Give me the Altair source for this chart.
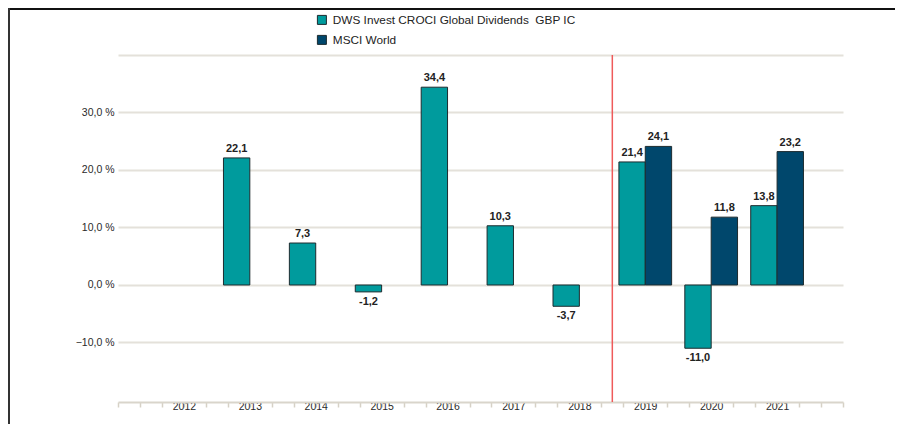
import altair as alt
import pandas as pd

years = [2012, 2013, 2014, 2015, 2016, 2017, 2018, 2019, 2020, 2021]
dws = [None, 22.1, 7.3, -1.2, 34.4, 10.3, -3.7, 21.4, -11.0, 13.8]
msci = [None, None, None, None, None, None, None, 24.1, 11.8, 23.2]
series_names = ["DWS Invest CROCI Global Dividends\u00a0 GBP IC", "MSCI World"]
series_colors = ["#009b9d", "#00476c"]
divider_year = 2018.5

rows = []
for y, a, b in zip(years, dws, msci):
    if a is not None:
        rows.append({"year": y, "series": series_names[0], "value": a,
                     "x0": y - 0.4, "x1": y, "xc": y - 0.2})
    if b is not None:
        rows.append({"year": y, "series": series_names[1], "value": b,
                     "x0": y, "x1": y + 0.4, "xc": y + 0.2})
df = pd.DataFrame(rows)
df["label"] = df["value"].map(lambda v: f"{v:.1f}".replace(".", ","))

W, H = 725, 347
PAD = {"left": 110, "top": 47, "right": 52, "bottom": 22}

xscale = alt.Scale(domain=[2011, 2022], nice=False, zero=False)
yscale = alt.Scale(domain=[-20.35, 40], nice=False, zero=False)

tick_vals = [round(2011 + i / 3, 4) for i in range(0, 34)]

x_axis = alt.Axis(
    values=tick_vals, title=None, grid=False,
    labelExpr="(abs(datum.value - round(datum.value)) < 0.01 && datum.value >= 2012 && datum.value <= 2021) ? format(round(datum.value), 'd') : ''",
    tickColor="#d6d1c6", tickSize=5, tickWidth=1.5,
    domainColor="#d9d5cb", domainWidth=2,
    labelFont="Liberation Sans", labelFontSize=10.5, labelColor="#2a2a2a",
    labelPadding=-6, labelFlush=False, labelOverlap=False,
)
y_axis = alt.Axis(
    values=[-10, 0, 10, 20, 30, 40], title=None,
    labelExpr="datum.value >= 40 ? '' : replace(format(datum.value, '.1f'), '.', ',') + ' %'",
    grid=True, gridColor="#e4e1da", gridWidth=2,
    ticks=False, domain=False,
    labelFont="Liberation Sans", labelFontSize=10.5, labelColor="#2a2a2a",
    labelPadding=4, labelOverlap=False,
)

bars = alt.Chart(df).mark_rect(stroke="#1d2b2f", strokeWidth=1).encode(
    x=alt.X("x0:Q", scale=xscale, axis=x_axis),
    x2="x1:Q",
    y=alt.Y("value:Q", scale=yscale, axis=y_axis),
    y2=alt.datum(0),
    color=alt.Color(
        "series:N",
        scale=alt.Scale(domain=series_names, range=series_colors),
        legend=alt.Legend(
            title=None, orient="none", legendX=198, legendY=-41,
            symbolType="square", symbolSize=81, symbolStrokeColor="#1d2b2f",
            symbolStrokeWidth=1, symbolOpacity=1,
            labelFont="Liberation Sans", labelFontSize=11.8, labelColor="#222222",
            rowPadding=6, padding=0, labelOffset=5, labelLimit=400,
        ),
    ),
)

pos = alt.Chart(df).transform_filter("datum.value >= 0").mark_text(
    baseline="bottom", dy=-4, font="Liberation Sans", fontSize=11,
    fontWeight="bold", color="#222222",
).encode(x=alt.X("xc:Q", scale=xscale, axis=x_axis),
         y=alt.Y("value:Q", scale=yscale, axis=y_axis), text="label:N")

neg = alt.Chart(df).transform_filter("datum.value < 0").mark_text(
    baseline="top", dy=4, font="Liberation Sans", fontSize=11,
    fontWeight="bold", color="#222222",
).encode(x=alt.X("xc:Q", scale=xscale, axis=x_axis),
         y=alt.Y("value:Q", scale=yscale, axis=y_axis), text="label:N")

divider = alt.Chart(pd.DataFrame({"x": [divider_year]})).mark_rule(
    color="#ef5a5a", strokeWidth=1.5
).encode(x=alt.X("x:Q", scale=xscale, axis=x_axis), y=alt.value(0), y2=alt.value(H))

frame_df = pd.DataFrame({"k": [0]})
frame_top = alt.Chart(frame_df).mark_rule(color="#111111", strokeWidth=2).encode(
    x=alt.value(-110), x2=alt.value(W + PAD["right"] + 5), y=alt.value(-46)
)
frame_left = alt.Chart(frame_df).mark_rule(color="#333333", strokeWidth=2).encode(
    x=alt.value(-109), y=alt.value(-47), y2=alt.value(H + PAD["bottom"])
)

chart = alt.layer(bars, pos, neg, divider, frame_top, frame_left).properties(
    width=W, height=H,
    autosize=alt.AutoSizeParams(type="none"),
    padding=PAD,
    background="white",
).configure_view(stroke=None).configure_axis(labelOverlap=False)

chart.save("out.html", embed_options={"renderer": "svg", "actions": False})
